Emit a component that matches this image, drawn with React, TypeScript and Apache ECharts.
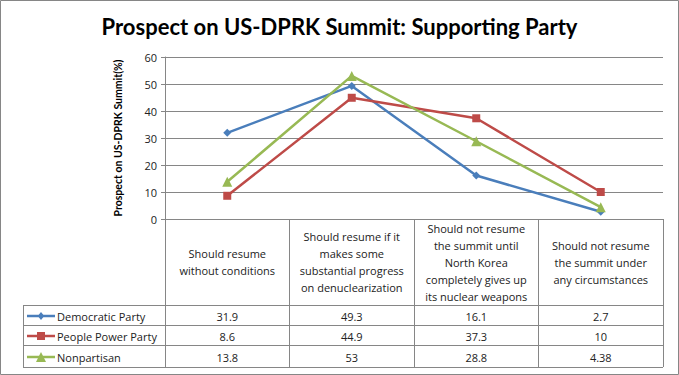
import React, { useEffect, useRef } from "react";
import * as echarts from "echarts";

const categories = [
  "Should resume\nwithout conditions",
  "Should resume if it\nmakes some\nsubstantial progress\non denuclearization",
  "Should not resume\nthe summit until\nNorth Korea\ncompletely gives up\nits nuclear weapons",
  "Should not resume\nthe summit under\nany circumstances",
];
const seriesNames = ["Democratic Party", "People Power Party", "Nonpartisan"];
const democratic = [31.9, 49.3, 16.1, 2.7];
const peoplePower = [8.6, 44.9, 37.3, 10];
const nonpartisan = [13.8, 53, 28.8, 4.38];
const yTicks = { min: 0, max: 60, interval: 10 };

const colors = ["#4A7EBB", "#BE4B48", "#98B954"];
const symbols = ["diamond", "rect", "triangle"];
const symbolSizes = [8, 8, 10];

const W = 679;
const H = 375;
const gridLeft = 165;
const gridRight = 663;
const gridTop = 57;
const axisY = 219;
const rowLines = [305, 325, 345, 367];
const tableLeft = 23;
const lineColor = "#868686";
const textFont = "'Open Sans', sans-serif";

function symbolGraphic(kind: string, cx: number, cy: number, size: number, color: string) {
  const h = size / 2;
  if (kind === "diamond") {
    return {
      type: "polygon",
      shape: { points: [[cx, cy - h], [cx + h * 0.8, cy], [cx, cy + h], [cx - h * 0.8, cy]] },
      style: { fill: color },
      silent: true,
    };
  }
  if (kind === "rect") {
    return {
      type: "rect",
      shape: { x: cx - h, y: cy - h, width: size, height: size },
      style: { fill: color },
      silent: true,
    };
  }
  return {
    type: "polygon",
    shape: { points: [[cx, cy - h], [cx + h, cy + h], [cx - h, cy + h]] },
    style: { fill: color },
    silent: true,
  };
}

export default function App() {
  const ref = useRef<HTMLDivElement>(null);
  useEffect(() => {
    if (!ref.current) return;
    const chart = echarts.init(ref.current, undefined, { renderer: "svg" });
    const values = [democratic, peoplePower, nonpartisan];
    const colW = (gridRight - gridLeft) / categories.length;
    const graphics: any[] = [
      {
        type: "rect",
        shape: { x: 0.5, y: 0.5, width: W - 1, height: H - 1 },
        style: { fill: "none", stroke: lineColor, lineWidth: 1 },
        silent: true,
      },
    ];
    rowLines.forEach((y) => {
      graphics.push({
        type: "line",
        shape: { x1: tableLeft, y1: y + 0.5, x2: gridRight, y2: y + 0.5 },
        style: { stroke: lineColor, lineWidth: 1 },
        silent: true,
      });
    });
    graphics.push({
      type: "line",
      shape: { x1: tableLeft + 0.5, y1: rowLines[0], x2: tableLeft + 0.5, y2: rowLines[rowLines.length - 1] },
      style: { stroke: lineColor, lineWidth: 1 },
      silent: true,
    });
    values.forEach((arr, r) => {
      const yc = (rowLines[r] + rowLines[r + 1]) / 2 + 1;
      // legend key
      graphics.push({
        type: "line",
        shape: { x1: 27, y1: yc, x2: 55, y2: yc },
        style: { stroke: colors[r], lineWidth: 2.5 },
        silent: true,
      });
      graphics.push(symbolGraphic(symbols[r], 41, yc, symbolSizes[r], colors[r]));
      graphics.push({
        type: "text",
        x: 57,
        y: yc,
        style: {
          text: seriesNames[r],
          font: `11px ${textFont}`,
          fill: "#222",
          align: "left",
          verticalAlign: "middle",
        },
        silent: true,
      });
      arr.forEach((v, i) => {
        graphics.push({
          type: "text",
          x: gridLeft + (i + 0.5) * colW,
          y: yc,
          style: {
            text: String(v),
            font: `11px ${textFont}`,
            fill: "#222",
            align: "center",
            verticalAlign: "middle",
          },
          silent: true,
        });
      });
    });

    chart.setOption({
      animation: false,
      backgroundColor: "#fff",
      title: {
        text: "Prospect on US-DPRK Summit: Supporting Party",
        left: "center",
        top: 10,
        textStyle: { fontFamily: "Lato, sans-serif", fontWeight: "bold", fontSize: 22, color: "#000" },
      },
      grid: { left: gridLeft, right: W - gridRight, top: gridTop, bottom: H - axisY, containLabel: false },
      xAxis: {
        type: "category",
        data: categories,
        boundaryGap: true,
        axisLine: { lineStyle: { color: lineColor, width: 1 } },
        axisTick: { show: true, length: rowLines[rowLines.length - 1] - axisY, lineStyle: { color: lineColor } },
        axisLabel: {
          interval: 0,
          margin: 43,
          verticalAlign: "middle",
          align: "center",
          fontFamily: textFont,
          fontSize: 11,
          lineHeight: 17,
          color: "#222",
        },
      },
      yAxis: {
        type: "value",
        min: yTicks.min,
        max: yTicks.max,
        interval: yTicks.interval,
        name: "Prospect on US-DPRK Summit(%)",
        nameLocation: "middle",
        nameRotate: 90,
        nameGap: 42,
        nameTextStyle: { fontFamily: "Lato, sans-serif", fontWeight: "bold", fontSize: 10.5, color: "#000" },
        axisLine: { show: true, lineStyle: { color: lineColor } },
        axisTick: { show: true, length: 4, lineStyle: { color: lineColor } },
        axisLabel: { fontFamily: textFont, fontSize: 11, color: "#222", margin: 8 },
        splitLine: { lineStyle: { color: lineColor, width: 1 } },
      },
      series: values.map((arr, i) => ({
        name: seriesNames[i],
        type: "line",
        data: arr,
        symbol: symbols[i],
        symbolSize: symbolSizes[i],
        lineStyle: { color: colors[i], width: 2.5 },
        itemStyle: { color: colors[i] },
      })),
      graphic: graphics,
    });
    return () => chart.dispose();
  }, []);
  return (
    <div
      ref={ref}
      style={{ position: "absolute", left: 0, top: 0, width: W, height: H }}
    />
  );
}
